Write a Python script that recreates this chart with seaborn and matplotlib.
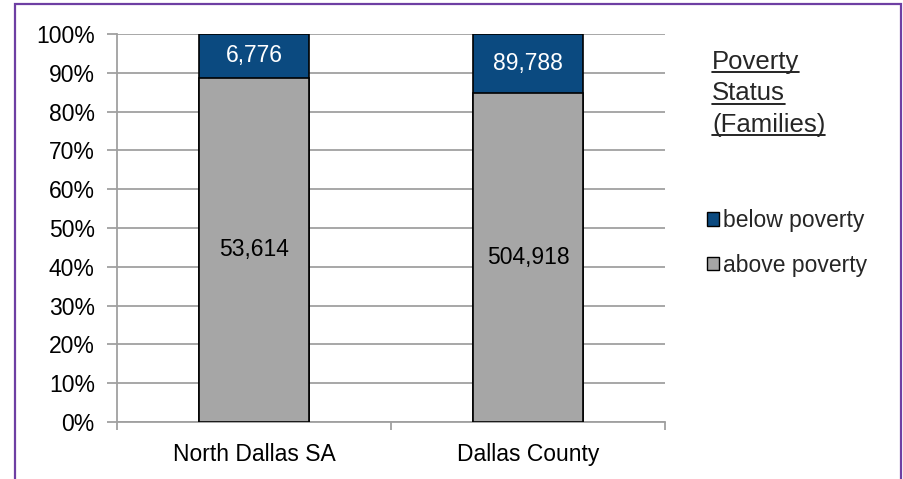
import matplotlib
matplotlib.use("Agg")
import matplotlib.pyplot as plt
import seaborn as sns
import pandas as pd
from matplotlib.patches import Rectangle, Patch
from matplotlib.lines import Line2D
from matplotlib.ticker import PercentFormatter

# data
areas = ["North Dallas SA", "Dallas County"]
below_poverty = [6776, 89788]
above_poverty = [53614, 504918]

navy = "#0B4A80"
gray = "#A6A6A6"
FS = 16.5

sns.set_theme(style="white")
plt.rcParams["font.family"] = ["Liberation Sans", "DejaVu Sans"]

totals = [a + b for a, b in zip(below_poverty, above_poverty)]
df = pd.DataFrame({
    "area": areas,
    "total": [100.0] * len(areas),
    "above": [a / t * 100 for a, t in zip(above_poverty, totals)],
})

fig = plt.figure(figsize=(9.04, 4.79), dpi=100)
ax = fig.add_axes([117 / 904, 1 - 422 / 479, 548 / 904, 388 / 479])

# stacked look: full bar in navy, above-poverty share in gray on top of it
sns.barplot(data=df, x="area", y="total", color=navy, width=0.40, saturation=1,
            edgecolor="black", linewidth=1.2, ax=ax, zorder=3)
sns.barplot(data=df, x="area", y="above", color=gray, width=0.40, saturation=1,
            edgecolor="black", linewidth=1.2, ax=ax, zorder=4)

ax.set_ylim(0, 100)
ax.set_xlim(-0.5, len(areas) - 0.5)
ax.set_yticks(range(0, 101, 10))
ax.yaxis.set_major_formatter(PercentFormatter(decimals=0))
ax.set_xlabel("")
ax.set_ylabel("")
ax.grid(axis="y", color="#A0A0A0", linewidth=1.3, zorder=0)
ax.set_axisbelow(True)

for s in ["top", "right"]:
    ax.spines[s].set_visible(False)
for s in ["left", "bottom"]:
    ax.spines[s].set_color("#A0A0A0")
    ax.spines[s].set_linewidth(1.3)

ax.tick_params(axis="y", left=True, length=7, width=1.3, color="#A0A0A0",
               labelsize=FS, pad=9, labelcolor="black")
ax.tick_params(axis="x", which="major", bottom=False, labelsize=FS, pad=9,
               labelcolor="black")
ax.set_xticks([i - 0.5 for i in range(len(areas) + 1)], minor=True)
ax.tick_params(axis="x", which="minor", bottom=True, length=5.5, width=1.3,
               color="#A0A0A0")

# value labels
for i in range(len(areas)):
    above_pct = df["above"][i]
    ax.text(i, above_pct / 2, f"{above_poverty[i]:,}", ha="center", va="center",
            fontsize=FS, color="black", zorder=5)
    ax.text(i, (above_pct + 100) / 2, f"{below_poverty[i]:,}", ha="center",
            va="center", fontsize=FS, color="white", zorder=5)

# legend
handles = [Patch(facecolor=navy, edgecolor="black", linewidth=1),
           Patch(facecolor=gray, edgecolor="black", linewidth=1)]
fig.legend(handles, ["below poverty", "above poverty"], loc="upper left",
           bbox_to_anchor=(707 / 904, 1 - 209 / 479), frameon=False,
           fontsize=FS, handlelength=0.52, handleheight=0.52,
           handletextpad=0.2, labelspacing=0.95, borderaxespad=0, borderpad=0)

# underlined legend title
fig.canvas.draw()
renderer = fig.canvas.get_renderer()
for k, line in enumerate(["Poverty", "Status", "(Families)"]):
    y = 1 - (62 + k * 31.5) / 479
    t = fig.text(712 / 904, y, line, fontsize=18.5, ha="left", va="center")
    bb = t.get_window_extent(renderer=renderer).transformed(fig.transFigure.inverted())
    fig.add_artist(Line2D([bb.x0, bb.x1], [bb.y0 + 0.004, bb.y0 + 0.004],
                          color="black", linewidth=1.2, transform=fig.transFigure))

# purple frame around the chart
fig.add_artist(Rectangle((15 / 904, -0.05), 886 / 904, 1.05 - 4 / 479,
                         transform=fig.transFigure, fill=False,
                         edgecolor="#6E3FA3", linewidth=1.6, clip_on=False))

fig.savefig("out.png", dpi=100)
